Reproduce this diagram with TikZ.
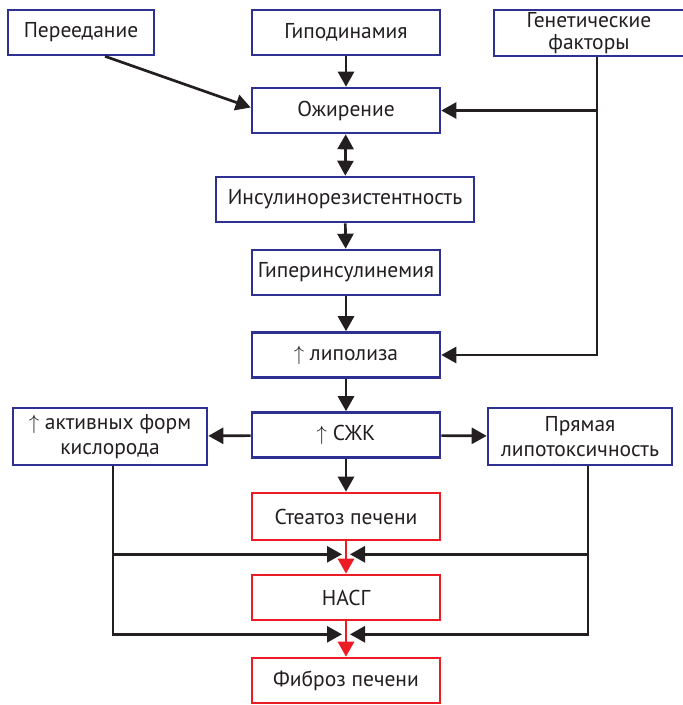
\documentclass[tikz,border=0pt]{standalone}
\usepackage{fontspec}
\setmainfont{PT Sans}
\usepackage{tikz}
\usetikzlibrary{arrows.meta,positioning,calc}
\definecolor{boxblue}{RGB}{46,49,146}
\definecolor{boxred}{RGB}{237,28,36}
\definecolor{ink}{RGB}{35,31,32}

\begin{document}
\begin{tikzpicture}[x=1pt,y=-1pt,
    font=\fontsize{21.5}{25}\selectfont, text=ink,
    box/.style={draw=boxblue, line width=2.6pt, fill=white, minimum height=45pt, align=center, inner sep=1pt},
    rbox/.style={box, draw=boxred},
    arr/.style={draw=ink, line width=2.7pt, -{Triangle[length=15pt,width=16pt]}},
    rarr/.style={arr, draw=boxred}]
    \useasboundingbox (0,0) rectangle (683,705);

    % Causes
    \node[box, minimum width=146pt] (per) at (81,32.5) {Переедание};
    \node[box, minimum width=188pt] (gipo) at (346,32.5) {Гиподинамия};
    \node[box, minimum width=190pt, minimum height=46pt, font=\fontsize{21.5}{21.5}\selectfont] (gen) at (589,33) {Генетические\\[1pt]факторы};

    % Main chain
    \node[box, minimum width=188pt] (ozh) at (346,110.5) {Ожирение};
    \node[box, minimum width=258pt] (ins) at (345,199.5) {Инсулинорезистентность};
    \node[box, minimum width=188pt] (giper) at (346,272.5) {Гиперинсулинемия};
    \node[box, minimum width=188pt] (lip) at (346,355) {$\uparrow$ липолиза};
    \node[box, minimum width=188pt] (szk) at (346,435) {$\uparrow$ СЖК};
    \node[box, minimum width=194pt, minimum height=57pt] (afk) at (110,436.5) {$\uparrow$ активных форм\\кислорода};
    \node[box, minimum width=184pt, minimum height=57pt] (prl) at (580,436.5) {Прямая\\липотоксичность};

    % Liver
    \node[rbox, minimum width=188pt, minimum height=47pt] (stea) at (346,516.5) {Стеатоз печени};
    \node[rbox, minimum width=188pt] (nasg) at (346,597.5) {НАСГ};
    \node[rbox, minimum width=188pt] (fib) at (346,680.5) {Фиброз печени};

    % Arrows
    \draw[arr] ([xshift=24pt]per.south) -- ([yshift=3pt]ozh.west);
    \draw[arr, {Triangle[length=15pt,width=16pt]}-{Triangle[length=15pt,width=16pt]}] (ozh) -- (ins);
    \foreach \a/\b in {gipo/ozh, ins/giper, giper/lip, lip/szk, szk/stea}
        \draw[arr] (\a) -- (\b);
    \draw[arr] ([xshift=8pt]gen.south) |- (ozh.east);
    \draw[arr] ([xshift=8pt]gen.south) |- (lip.east);
    \draw[arr] (szk) -- (afk);
    \draw[arr] (szk) -- (prl);

    \foreach \a/\b in {stea/nasg, nasg/fib} {
        \draw[rarr] (\a) -- (\b);
        \draw[arr] ([xshift=3pt]afk.south) |- ([xshift=-4pt,yshift=-13pt]\a.south);
        \draw[arr] ([xshift=8pt]prl.south) |- ([xshift=4pt,yshift=-13pt]\a.south);
    }
\end{tikzpicture}
\end{document}
